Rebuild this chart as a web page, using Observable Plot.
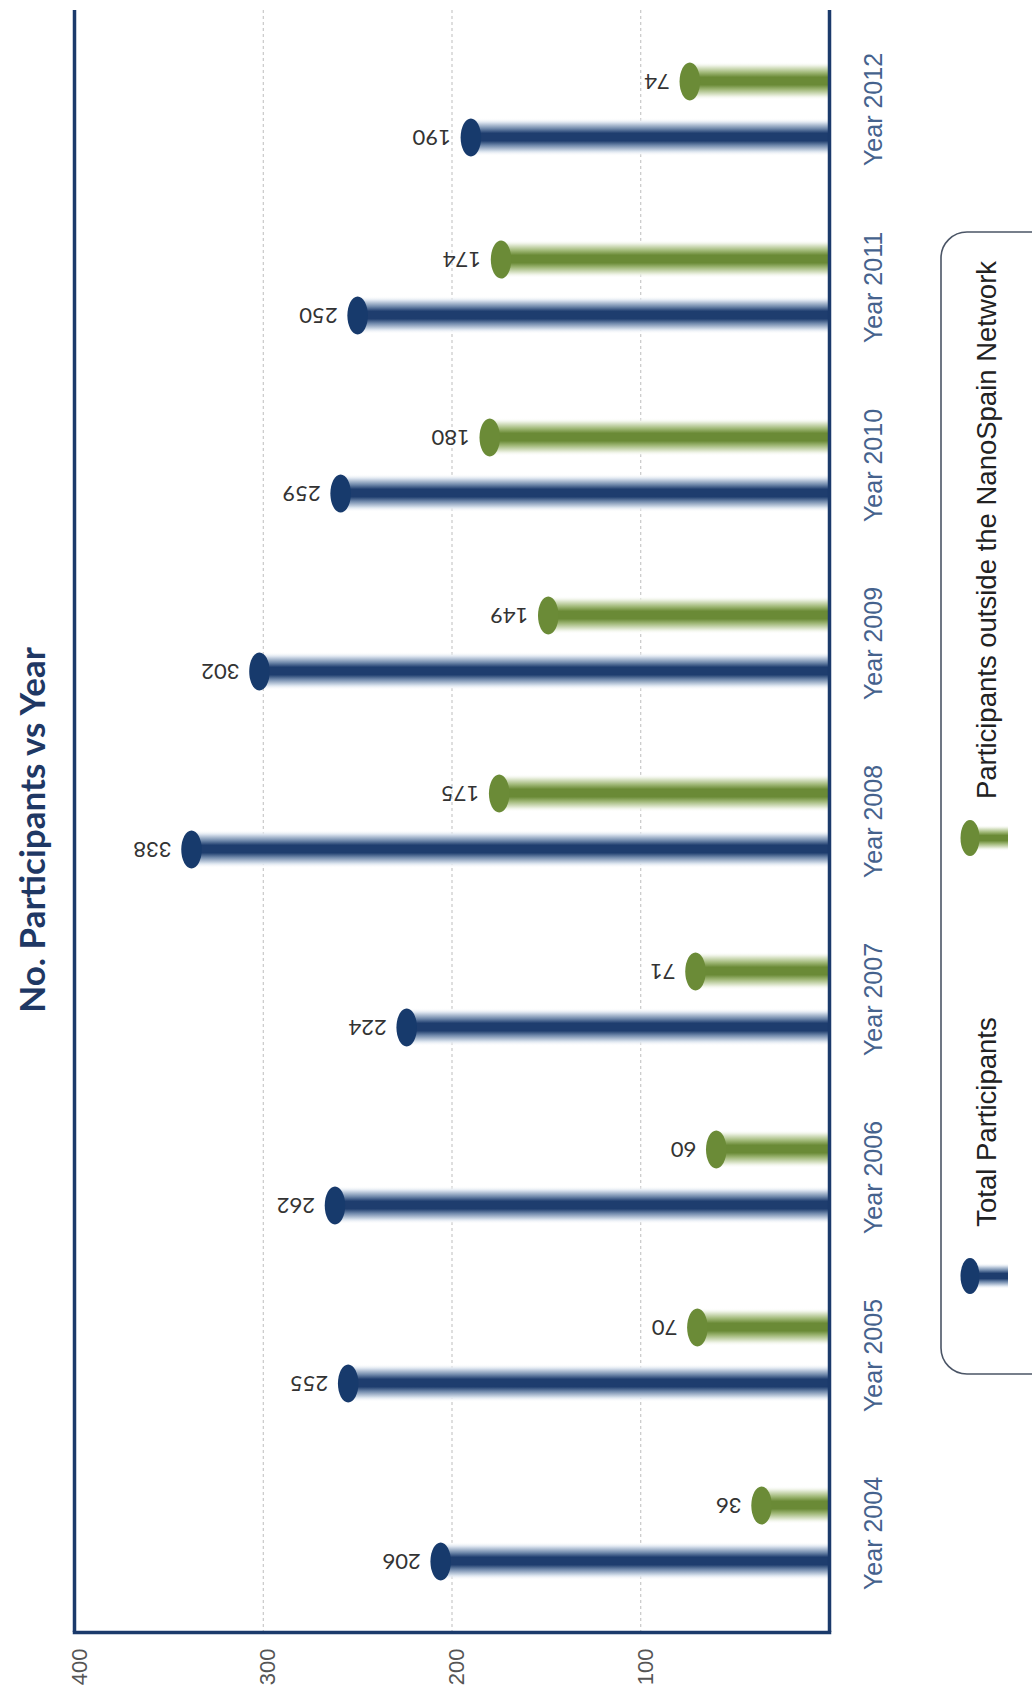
<!DOCTYPE html>
<html>
<head>
<meta charset="utf-8">
<script src="https://cdn.jsdelivr.net/npm/d3@7"></script>
<script src="https://cdn.jsdelivr.net/npm/@observablehq/plot@0.6"></script>
<style>
  body { margin: 0; background: #ffffff; }
  #chart svg { display: block; }
</style>
</head>
<body>
<svg width="0" height="0" style="position:absolute">
  <defs>
    <linearGradient id="gradBlue" x1="0" y1="0" x2="0" y2="1">
      <stop offset="0%" stop-color="#ffffff" stop-opacity="0"/>
      <stop offset="12%" stop-color="#d9e2ed"/>
      <stop offset="28%" stop-color="#7089ab"/>
      <stop offset="40%" stop-color="#1e3d6e"/>
      <stop offset="60%" stop-color="#1e3d6e"/>
      <stop offset="72%" stop-color="#7089ab"/>
      <stop offset="88%" stop-color="#d9e2ed"/>
      <stop offset="100%" stop-color="#ffffff" stop-opacity="0"/>
    </linearGradient>
    <linearGradient id="gradGreen" x1="0" y1="0" x2="0" y2="1">
      <stop offset="0%" stop-color="#ffffff" stop-opacity="0"/>
      <stop offset="12%" stop-color="#e4ebd7"/>
      <stop offset="28%" stop-color="#9fb776"/>
      <stop offset="40%" stop-color="#6a8a36"/>
      <stop offset="60%" stop-color="#6a8a36"/>
      <stop offset="72%" stop-color="#9fb776"/>
      <stop offset="88%" stop-color="#e4ebd7"/>
      <stop offset="100%" stop-color="#ffffff" stop-opacity="0"/>
    </linearGradient>
  </defs>
</svg>
<div id="chart"></div>
<script>
// ---- data ----
const years = [2004, 2005, 2006, 2007, 2008, 2009, 2010, 2011, 2012];
const totalParticipants = [206, 255, 262, 224, 338, 302, 259, 250, 190];
const outsideParticipants = [36, 70, 60, 71, 175, 149, 180, 174, 74];
const xTicks = [400, 300, 200, 100];
const gridValues = [100, 200, 300];
const seriesNames = ["Total Participants", "Participants outside the NanoSpain Network"];
const yearLabel = d => "Year " + d;
const titleText = "No. Participants vs Year";

// ---- styles ----
const navy = "#1b3a6b";
const blueCap = "#173a6c";
const greenCap = "#6b8b37";

const rows = years.map((year, i) => ({year, total: totalParticipants[i], outside: outsideParticipants[i]}));

// ellipse symbol for the bar end caps
const ellipse = {
  draw(ctx, size) {
    const r = Math.sqrt(size / Math.PI), rx = r * 0.54, ry = r, k = 0.5523;
    ctx.moveTo(rx, 0);
    ctx.bezierCurveTo(rx, ry * k, rx * k, ry, 0, ry);
    ctx.bezierCurveTo(-rx * k, ry, -rx, ry * k, -rx, 0);
    ctx.bezierCurveTo(-rx, -ry * k, -rx * k, -ry, 0, -ry);
    ctx.bezierCurveTo(rx * k, -ry, rx, -ry * k, rx, 0);
    ctx.closePath();
  }
};

const OFF = 28;     // vertical offset of the two series inside a year band
const INSET = 70;   // bar thickness control

const plot = Plot.plot({
  width: 1032,
  height: 1697,
  marginLeft: 74,
  marginRight: 203,
  marginTop: 10,
  marginBottom: 65,
  style: {background: "transparent"},
  x: {domain: [0, 400], reverse: true, axis: null},
  y: {type: "band", domain: years.slice().reverse(), padding: 0, insetTop: 8, insetBottom: 8, axis: null},
  marks: [
    Plot.ruleX(gridValues, {stroke: "#bdbdbd", strokeWidth: 1, strokeDasharray: "3,3"}),
    // outside-network series (green)
    Plot.barX(rows, {x: "outside", y: "year", fill: "url(#gradGreen)", insetTop: INSET, insetBottom: INSET, dy: -OFF}),
    // total series (blue)
    Plot.barX(rows, {x: "total", y: "year", fill: "url(#gradBlue)", insetTop: INSET, insetBottom: INSET, dy: OFF}),
    // axis lines
    Plot.ruleX([0, 400], {stroke: navy, strokeWidth: 3.5}),
    Plot.frame({anchor: "bottom", stroke: navy, strokeWidth: 3.5}),
    // caps
    Plot.dot(rows, {x: "outside", y: "year", symbol: ellipse, r: 19, fill: greenCap, stroke: "none", dy: -OFF}),
    Plot.dot(rows, {x: "total", y: "year", symbol: ellipse, r: 19, fill: blueCap, stroke: "none", dy: OFF}),
    // value labels (upside-down like the reference)
    Plot.text(rows, {x: "outside", y: "year", text: d => String(d.outside), rotate: 180, textAnchor: "start",
      lineAnchor: "middle", dx: -20, dy: -OFF, fontSize: 22, fill: "#333333", fontFamily: "Lato, 'Liberation Sans', sans-serif"}),
    Plot.text(rows, {x: "total", y: "year", text: d => String(d.total), rotate: 180, textAnchor: "start",
      lineAnchor: "middle", dx: -20, dy: OFF, fontSize: 22, fill: "#333333", fontFamily: "Lato, 'Liberation Sans', sans-serif"}),
    // year labels on the right
    Plot.text(years, {y: d => d, text: yearLabel, frameAnchor: "right", textAnchor: "middle", lineAnchor: "middle",
      dx: 44, rotate: -90, fontSize: 25, fill: "#45628d", fontFamily: "'Liberation Sans', Arial, sans-serif"}),
    // value axis tick labels on the bottom
    Plot.text(xTicks, {x: d => d, text: d => String(d), frameAnchor: "bottom", textAnchor: "end", lineAnchor: "middle",
      dy: 16, dx: 5, rotate: -90, fontSize: 22, fill: "#555555", fontFamily: "'Liberation Sans', Arial, sans-serif"})
  ]
});

document.getElementById("chart").appendChild(plot);

const svg = d3.select(plot);

// title (rotated, on the left)
svg.append("text")
  .attr("transform", "translate(31,830) rotate(-90)")
  .attr("text-anchor", "middle")
  .attr("dominant-baseline", "central")
  .attr("font-family", "Lato, 'Open Sans', sans-serif")
  .attr("font-weight", "bold")
  .attr("font-size", 35)
  .attr("fill", "#1f3864")
  .text(titleText);

// legend (rotated, on the right)
const lg = svg.append("g");
lg.append("rect")
  .attr("x", 941).attr("y", 232).attr("width", 150).attr("height", 1142)
  .attr("rx", 26).attr("fill", "none").attr("stroke", "#4b5566").attr("stroke-width", 1.6);

const legendItems = [
  {name: seriesNames[1], grad: "url(#gradGreen)", cap: greenCap, sy: 838, ty: 530},
  {name: seriesNames[0], grad: "url(#gradBlue)", cap: blueCap, sy: 1276, ty: 1122}
];
legendItems.forEach(it => {
  lg.append("rect").attr("x", 970).attr("y", it.sy - 13).attr("width", 38).attr("height", 26).attr("fill", it.grad);
  lg.append("ellipse").attr("cx", 970).attr("cy", it.sy).attr("rx", 9.5).attr("ry", 18).attr("fill", it.cap);
  lg.append("text")
    .attr("transform", `translate(986,${it.ty}) rotate(-90)`)
    .attr("text-anchor", "middle")
    .attr("dominant-baseline", "central")
    .attr("font-family", "'Liberation Sans', Arial, sans-serif")
    .attr("font-size", 27.5)
    .attr("fill", "#222222")
    .text(it.name);
});
</script>
</body>
</html>
